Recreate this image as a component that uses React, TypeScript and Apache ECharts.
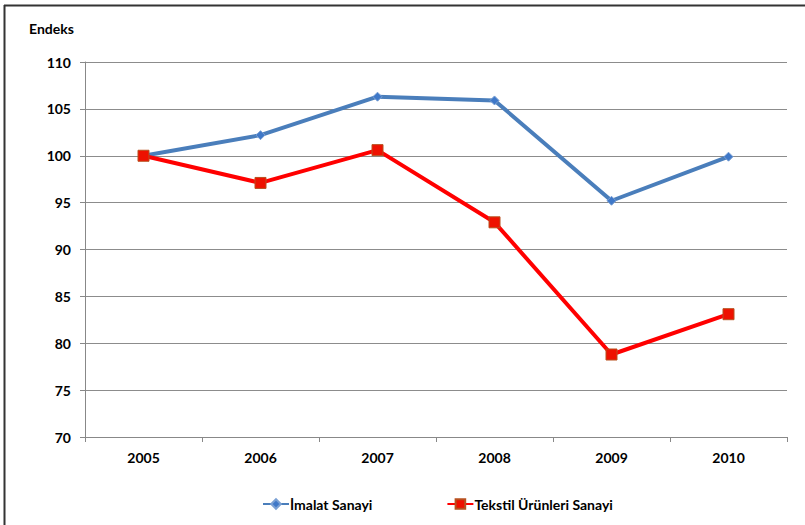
import React, { useEffect, useRef } from "react";
import * as echarts from "echarts";

const years = ["2005", "2006", "2007", "2008", "2009", "2010"];
const imalat = [100, 102.2, 106.3, 105.9, 95.2, 99.9];
const tekstil = [100, 97.1, 100.6, 92.9, 78.8, 83.1];
const seriesNames = ["İmalat Sanayi", "Tekstil Ürünleri Sanayi"];
const yAxisTitle = "Endeks";

const FONT = "Lato";

export default function App() {
  const ref = useRef<HTMLDivElement>(null);
  useEffect(() => {
    document.body.style.margin = "0";
    const chart = echarts.init(ref.current!, null, { renderer: "svg" });
    chart.setOption({
      animation: false,
      backgroundColor: "#ffffff",
      textStyle: { fontFamily: FONT },
      grid: { left: 85, right: 18, top: 62, bottom: 88, containLabel: false },
      graphic: [
        { type: "line", shape: { x1: 4.5, y1: 5, x2: 4.5, y2: 525 }, style: { stroke: "#333", lineWidth: 2 } },
        { type: "line", shape: { x1: 4, y1: 5.5, x2: 805, y2: 5.5 }, style: { stroke: "#333", lineWidth: 2 } },
        {
          type: "text",
          left: 29,
          top: 21,
          style: { text: yAxisTitle, font: `bold 14px ${FONT}`, fill: "#000" },
        },
      ],
      legend: {
        left: 257,
        top: 492,
        itemGap: 74,
        itemWidth: 26,
        itemHeight: 12,
        textStyle: { fontFamily: FONT, fontWeight: "bold", fontSize: 14, color: "#000", padding: [0, 0, 0, -4] },
        data: seriesNames,
      },
      xAxis: {
        type: "category",
        data: years,
        boundaryGap: true,
        axisLine: { lineStyle: { color: "#888", width: 1 } },
        axisTick: { show: true, length: 5, lineStyle: { color: "#888" } },
        axisLabel: { fontFamily: FONT, fontWeight: "bold", fontSize: 14, color: "#000", margin: 13 },
      },
      yAxis: {
        type: "value",
        min: 70,
        max: 110,
        interval: 5,
        axisLine: { show: true, lineStyle: { color: "#888", width: 1 } },
        axisTick: { show: true, length: 5, inside: false, lineStyle: { color: "#888" } },
        axisLabel: { fontFamily: FONT, fontWeight: "bold", fontSize: 14, color: "#000", margin: 14 },
        splitLine: { lineStyle: { color: "#8c8c8c", width: 1 } },
      },
      series: [
        {
          name: seriesNames[0],
          type: "line",
          data: imalat,
          symbol: "diamond",
          symbolSize: 9,
          lineStyle: { color: "#4a7ebb", width: 4 },
          itemStyle: { color: "#3f78c8", borderColor: "#7aa0d4", borderWidth: 1 },
          z: 2,
        },
        {
          name: seriesNames[1],
          type: "line",
          data: tekstil,
          symbol: "rect",
          symbolSize: 11,
          lineStyle: { color: "#ff0000", width: 4 },
          itemStyle: { color: "#ee1100", borderColor: "#b8501f", borderWidth: 1 },
          z: 3,
        },
      ],
    });
    return () => chart.dispose();
  }, []);
  return <div ref={ref} style={{ position: "fixed", left: 0, top: 0, width: 805, height: 525 }} />;
}
